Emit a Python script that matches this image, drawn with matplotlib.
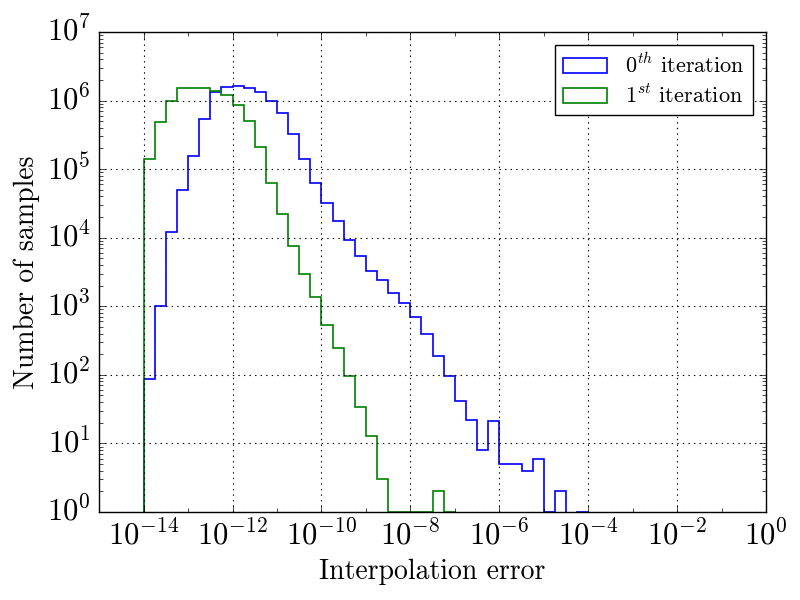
import numpy as np
import matplotlib
matplotlib.use("Agg")
import matplotlib.pyplot as plt
from matplotlib.ticker import FixedLocator, LogFormatterMathtext, LogLocator, NullFormatter

plt.style.use("classic")
plt.rcParams["mathtext.fontset"] = "cm"
plt.rcParams["font.family"] = ["cmr10", "DejaVu Serif"]
plt.rcParams["axes.unicode_minus"] = False

# histogram counts, 4 bins per decade starting at 1e-14
counts_0th = [87, 1000, 12000, 49000, 155000, 530000, 1330000, 1560000,
              1630000, 1520000, 1330000, 1000000, 650000, 330000, 140000,
              63000, 32000, 17500, 9400, 5400, 3300, 2400, 1550, 1100, 700,
              400, 187, 97, 41, 22, 8, 21, 5, 5, 4, 6, 1, 2, 0, 1]
counts_1st = [140000, 480000, 980000, 1500000, 1550000, 1500000, 1400000,
              1200000, 850000, 500000, 210000, 63000, 22000, 7600, 3000,
              1350, 530, 250, 95, 34, 13, 3, 1, 1, 1, 1, 2, 1]
labels = [r"$0^{th}$ iteration", r"$1^{st}$ iteration"]

edges_0 = 10.0 ** (-14 + np.arange(len(counts_0th) + 1) / 4.0)
edges_1 = 10.0 ** (-14 + np.arange(len(counts_1st) + 1) / 4.0)

fig = plt.figure(figsize=(8, 6), dpi=100, facecolor="white")
ax = fig.add_axes([0.124, 0.1467, 0.8335, 0.8], facecolor="white")

ax.hist(edges_0[:-1], bins=edges_0, weights=counts_0th, histtype="step",
        log=True, color="b", linewidth=1.2, label=labels[0])
ax.hist(edges_1[:-1], bins=edges_1, weights=counts_1st, histtype="step",
        log=True, color="g", linewidth=1.2, label=labels[1])

ax.set_xscale("log")
ax.set_yscale("log")
ax.set_xlim(1e-15, 1e0)
ax.set_ylim(1e0, 1e7)

ax.xaxis.set_major_locator(FixedLocator([10.0 ** k for k in range(-14, 1, 2)]))
ax.xaxis.set_minor_locator(FixedLocator([10.0 ** k for k in range(-15, 0, 2)]))
ax.xaxis.set_major_formatter(LogFormatterMathtext())
ax.xaxis.set_minor_formatter(NullFormatter())
ax.yaxis.set_major_locator(LogLocator(base=10, numticks=20))
ax.yaxis.set_minor_locator(LogLocator(base=10, subs=np.arange(2, 10), numticks=20))
ax.yaxis.set_major_formatter(LogFormatterMathtext())

ax.tick_params(axis="both", which="major", labelsize=22, length=5, pad=6)
ax.tick_params(axis="both", which="minor", length=3)
ax.grid(True, which="major", linestyle=(0, (1, 3)), color="k", linewidth=0.8)

ax.set_xlabel("Interpolation error", fontsize=20)
ax.set_ylabel("Number of samples", fontsize=20)

leg = ax.legend(loc="upper right", fontsize=16, fancybox=False,
                borderaxespad=0.6, handlelength=2.0, handletextpad=0.8,
                labelspacing=0.3, borderpad=0.35)
leg.get_frame().set_edgecolor("k")

fig.savefig("out.png", dpi=100, facecolor="white")
